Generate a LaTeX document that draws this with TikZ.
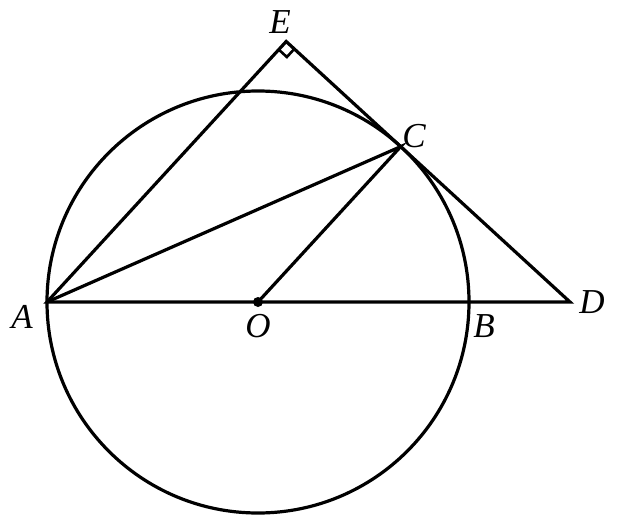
\documentclass[tikz,border=0pt]{standalone}
\usepackage{fontspec}
\setmainfont{Liberation Serif}
\usetikzlibrary{calc}
\begin{document}
\begin{tikzpicture}[x=1pt,y=-1pt,line width=3.2pt,line join=miter,
  lbl/.style={font=\fontsize{35}{38}\selectfont\itshape,inner sep=0pt}]
\useasboundingbox (0,0) rectangle (620,527);
\coordinate (O) at (258,302);
\coordinate (A) at (47,302);
\coordinate (B) at (469,302);
\coordinate (D) at (570,302);
\coordinate (C) at (400.7,146.6);
\coordinate (E) at ($(D)!(A)!(C)$);
\draw (O) circle (211);
\draw (A) -- (D) -- (E) -- cycle;
\draw (A) -- (C) -- (O);
\coordinate (e1) at ($(E)!11pt!(A)$);
\coordinate (e2) at ($(E)!11pt!(D)$);
\draw[line width=2.6pt] (e1) -- ($(e1)+(e2)-(E)$) -- (e2);
\fill (O) circle (5);
\node[lbl] (lE) at (280,22) {E};
\node[lbl] (lA) at (22,317) {A};
\node[lbl] (lO) at (258,326) {O};
\node[lbl] (lB) at (484,326) {B};
\node[lbl] (lD) at (592,302) {D};
\node[lbl] (lC) at (414,136) {C};
\end{tikzpicture}
\end{document}
